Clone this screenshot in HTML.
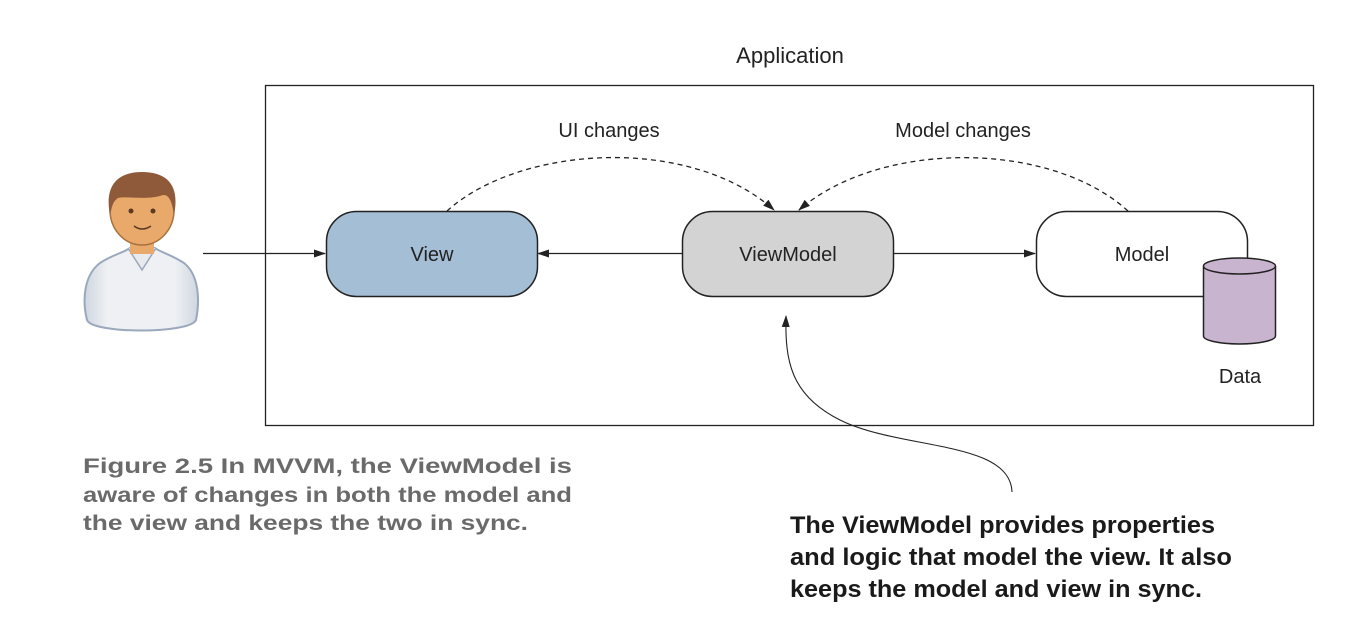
<!DOCTYPE html>
<html><head><meta charset="utf-8"><style>
html,body{margin:0;padding:0;background:#fff;}
svg{display:block;}
</style></head><body>
<svg width="1368" height="642" viewBox="0 0 1368 642" xmlns="http://www.w3.org/2000/svg" font-family="Liberation Sans, sans-serif">
<defs>
<marker id="ah" markerWidth="12" markerHeight="8" refX="11" refY="4" orient="auto" markerUnits="userSpaceOnUse">
<path d="M0,0 L12,4 L0,8 z" fill="#222"/>
</marker>
<linearGradient id="shirt" x1="0" x2="1" y1="0" y2="0">
<stop offset="0" stop-color="#cfd6e0"/><stop offset="0.2" stop-color="#eef0f3"/><stop offset="0.8" stop-color="#eef0f3"/><stop offset="1" stop-color="#cfd6e0"/>
</linearGradient>
</defs>
<text x="790" y="63" font-size="22" text-anchor="middle" fill="#222">Application</text>
<rect x="265.5" y="85.5" width="1048" height="340" fill="none" stroke="#222" stroke-width="1.3"/>

<!-- person -->
<path d="M87,320 C82,300 84,275 100,263 C112,255 125,252 130,248 L155,248 C160,252 172,255 184,263 C199,275 200,300 196,320 C190,334 92,334 87,320 z" fill="url(#shirt)" stroke="#9aa8bd" stroke-width="2"/>
<path d="M128,248 L142,270 L156,248" fill="#e8eaee" stroke="#9aa8bd" stroke-width="1.5"/>
<rect x="130" y="236" width="24" height="18" fill="#e9a96a"/>
<ellipse cx="142" cy="210" rx="32" ry="35" fill="#e9a96a" stroke="#a8713e" stroke-width="1.5"/>
<path d="M110,215 C104,185 118,172 142,172 C168,172 180,186 174,215 C172,200 168,192 160,196 C145,200 125,196 118,198 C112,202 112,208 110,215 z" fill="#8f5a3a"/>
<circle cx="131" cy="211" r="2.5" fill="#5a3a25"/><circle cx="153" cy="211" r="2.5" fill="#5a3a25"/>
<path d="M134,226 Q142,232 151,226" fill="none" stroke="#5a3a25" stroke-width="1.5"/>

<line x1="203" y1="253.5" x2="325" y2="253.5" stroke="#222" stroke-width="1.3" marker-end="url(#ah)"/>

<rect x="326.5" y="211.5" width="211" height="85" rx="30" fill="#a4bed5" stroke="#222" stroke-width="1.5"/>
<text x="432" y="261" font-size="20" text-anchor="middle" fill="#222">View</text>
<rect x="682.5" y="211.5" width="211" height="85" rx="30" fill="#d3d3d3" stroke="#222" stroke-width="1.5"/>
<text x="788" y="261" font-size="20" text-anchor="middle" fill="#222">ViewModel</text>
<rect x="1036.5" y="211.5" width="211" height="85" rx="30" fill="#fff" stroke="#222" stroke-width="1.5"/>
<text x="1142" y="261" font-size="20" text-anchor="middle" fill="#222">Model</text>

<line x1="682" y1="253.5" x2="538" y2="253.5" stroke="#222" stroke-width="1.3" marker-end="url(#ah)"/>
<line x1="893" y1="253.5" x2="1035" y2="253.5" stroke="#222" stroke-width="1.3" marker-end="url(#ah)"/>

<!-- cylinder -->
<path d="M1203.5,266 L1203.5,336 A36,8 0 0 0 1275.5,336 L1275.5,266" fill="#c9b4cf" stroke="#222" stroke-width="1.5"/>
<ellipse cx="1239.5" cy="266" rx="36" ry="8" fill="#c9b4cf" stroke="#222" stroke-width="1.5"/>
<text x="1240" y="383" font-size="20" text-anchor="middle" fill="#222">Data</text>

<text x="609" y="137" font-size="20" text-anchor="middle" fill="#222">UI changes</text>
<text x="963" y="137" font-size="20" text-anchor="middle" fill="#222">Model changes</text>
<path d="M447,211 C520,145 690,135 774,210" fill="none" stroke="#222" stroke-width="1.3" stroke-dasharray="5,4" marker-end="url(#ah)"/>
<path d="M1128,211 C1050,140 880,140 799,210" fill="none" stroke="#222" stroke-width="1.3" stroke-dasharray="5,4" marker-end="url(#ah)"/>

<path d="M1012,492 C1010,440 900,450 840,420 C790,395 785,360 786,316" fill="none" stroke="#222" stroke-width="1.1" marker-end="url(#ah)"/>

<g font-size="21" font-weight="bold" fill="#6a6a6a">
<text x="83" y="473" textLength="489" lengthAdjust="spacingAndGlyphs">Figure 2.5    In MVVM, the ViewModel is</text>
<text x="83" y="502" textLength="489" lengthAdjust="spacingAndGlyphs">aware of changes in both the model and</text>
<text x="83" y="530" textLength="445" lengthAdjust="spacingAndGlyphs">the view and keeps the two in sync.</text>
</g>
<g font-size="24" font-weight="bold" fill="#1a1a1a">
<text x="790" y="533" textLength="425" lengthAdjust="spacingAndGlyphs">The ViewModel provides properties</text>
<text x="790" y="565" textLength="442" lengthAdjust="spacingAndGlyphs">and logic that model the view. It also</text>
<text x="790" y="597" textLength="412" lengthAdjust="spacingAndGlyphs">keeps the model and view in sync.</text>
</g>
</svg>
</body></html>
